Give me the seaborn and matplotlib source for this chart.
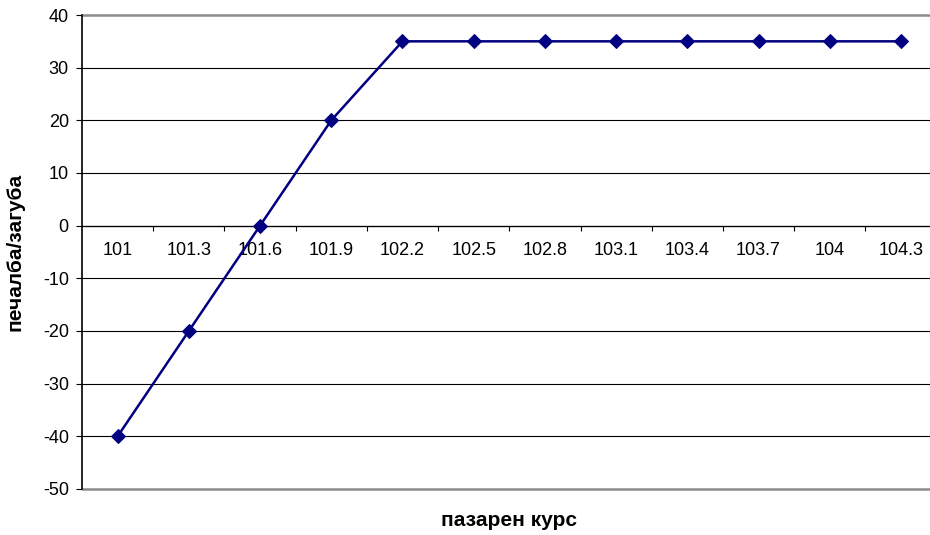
import matplotlib
matplotlib.use("Agg")
import matplotlib.pyplot as plt
import seaborn as sns
import pandas as pd
import numpy as np
from matplotlib.ticker import FixedLocator, NullFormatter

categories = ["101", "101.3", "101.6", "101.9", "102.2", "102.5", "102.8",
              "103.1", "103.4", "103.7", "104", "104.3"]
values = [-40, -20, 0, 20, 35, 35, 35, 35, 35, 35, 35, 35]
y_ticks = [-50, -40, -30, -20, -10, 0, 10, 20, 30, 40]

sns.set_style("white")
plt.rcParams['font.family'] = ['Liberation Sans', 'DejaVu Sans']
plt.rcParams['text.color'] = 'black'
plt.rcParams['axes.labelcolor'] = 'black'
plt.rcParams['xtick.color'] = 'black'
plt.rcParams['ytick.color'] = 'black'

df = pd.DataFrame({"pos": np.arange(len(categories)), "val": values})

fig = plt.figure(figsize=(9.3, 5.35), dpi=100)
ax = fig.add_axes([82/930, 1-489/535, (936.6-82)/930, 474/535])

# grid lines
for yv in y_ticks[1:-1]:
    ax.axhline(yv, color="black", lw=0.8, zorder=1)
ax.axhline(40, color="#8c8c8c", lw=1.8, zorder=1, clip_on=False)
ax.axhline(-50, color="#8c8c8c", lw=1.8, zorder=1, clip_on=False)

sns.lineplot(data=df, x="pos", y="val", ax=ax, color="#000080", lw=1.8,
             marker="D", markersize=7.5, markeredgecolor="#000080", zorder=3,
             clip_on=False)

ax.set_xlim(-0.5, len(categories) - 0.5)
ax.set_ylim(-50, 40)
ax.set_yticks(y_ticks)
ax.set_yticklabels([str(v) for v in y_ticks], fontsize=13, color='black')

ax.spines['top'].set_visible(False)
ax.spines['right'].set_visible(False)
ax.spines['left'].set_color('black')
ax.spines['left'].set_linewidth(1.2)
ax.spines['bottom'].set_position(('data', 0))
ax.spines['bottom'].set_color('black')
ax.spines['bottom'].set_linewidth(0.9)

ax.set_xticks(np.arange(len(categories)))
ax.set_xticklabels(categories, fontsize=13, color='black')
ax.tick_params(axis='x', which='major', length=0, pad=12)
ax.xaxis.set_minor_locator(FixedLocator(np.arange(0.5, len(categories) - 0.5, 1)))
ax.xaxis.set_minor_formatter(NullFormatter())
ax.tick_params(axis='x', which='minor', direction='out', length=3.5, width=0.8, color='black', bottom=True)
ax.tick_params(axis='y', which='major', direction='out', length=4, width=0.8, color='black', left=True, pad=5.5)

ax.set_xlabel("пазарен курс", fontsize=15, fontweight='bold', color='black')
ax.set_ylabel("печалба/загуба", fontsize=15, fontweight='bold', color='black')
ax.xaxis.set_label_coords((509-82)/854.6, -0.046)
ax.yaxis.set_label_coords((25-82)/854.6, 0.5)

fig.savefig("out.png", dpi=100)
